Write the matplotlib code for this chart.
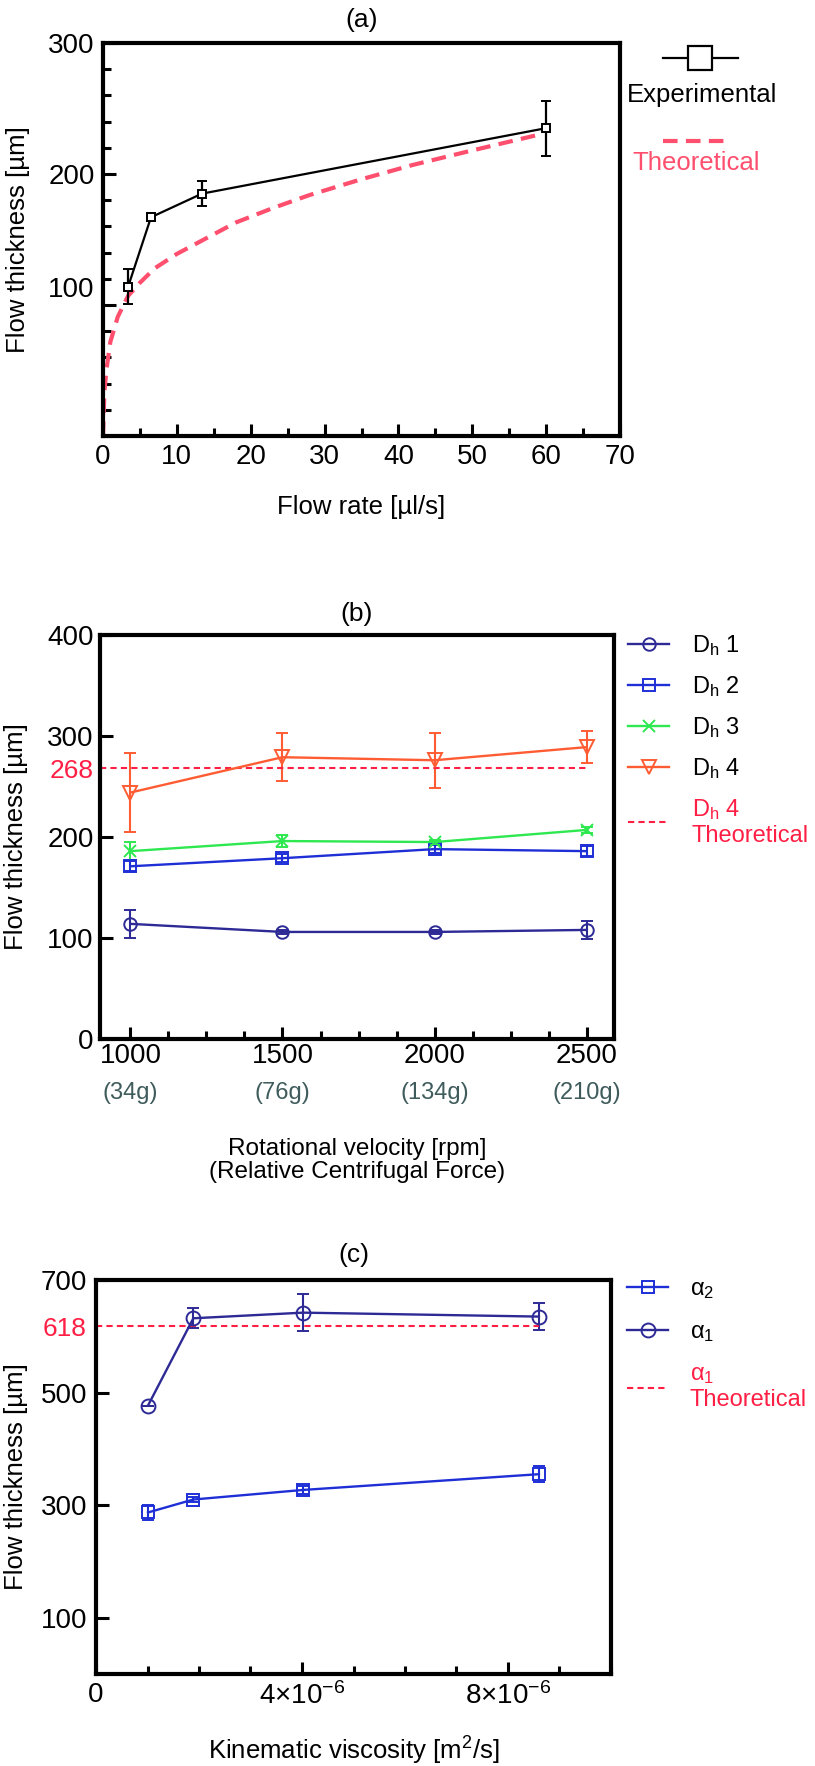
import matplotlib
matplotlib.use('Agg')
import matplotlib.pyplot as plt
from matplotlib.lines import Line2D
from matplotlib.ticker import MultipleLocator
from matplotlib.transforms import ScaledTranslation

plt.rcParams['font.family'] = ['Liberation Sans', 'DejaVu Sans']
plt.rcParams['mathtext.fontset'] = 'custom'
plt.rcParams['mathtext.rm'] = 'Liberation Sans'
plt.rcParams['mathtext.it'] = 'Liberation Sans:italic'
plt.rcParams['mathtext.default'] = 'regular'

# ---- panel (a) data ----
flow_rate = [3.4, 6.5, 13.4, 60]
exp_thick = [114, 167, 185, 235]
exp_err = [13.5, 3, 9.5, 21]
theo_rate = [0, 0.2, 0.5, 1, 2, 3.4, 5, 7, 10, 13, 18, 23, 28, 35, 42, 50, 59]
theo_thick = [0, 35, 52, 72, 91, 107, 117, 128, 139, 148, 163, 174, 184, 196, 207, 218, 230]

# ---- panel (b) data ----
rpm = [1000, 1500, 2000, 2500]
rcf_labels = ['(34g)', '(76g)', '(134g)', '(210g)']
dh1 = [114, 106, 106, 108]
dh1_err = [14, 2, 2, 9]
dh2 = [171, 179, 188, 186]
dh2_err = [5, 4, 4, 5]
dh3 = [186, 196, 195, 207]
dh3_err = [9, 6, 2, 3]
dh4 = [244, 279, 276, 289]
dh4_err = [39, 24, 27, 16]
dh4_theory = 268
dh4_theory_x = [900, 2500]

# ---- panel (c) data ----
visc = [1.01e-6, 1.89e-6, 4.02e-6, 8.6e-6]
alpha1 = [477, 632, 642, 635]
alpha1_err = [0, 18, 33, 24]
alpha2 = [287, 310, 327, 355]
alpha2_err = [14, 4, 7, 14]
alpha1_theory = 618
alpha1_theory_x = [0, 8.6e-6]

NAVY = '#2d2a96'
BLUE = '#1f2fd6'
GREEN = '#2ee84f'
ORANGE = '#ff5c33'
RED = '#ff1f44'
PINK = '#ff4f6e'
GRAY = '#3f5b5b'

W, H = 815, 1766
fig = plt.figure(figsize=(W / 100, H / 100), dpi=100)


def fx(px):
    return px / W


def fy(py):
    return 1 - py / H


def frame(ax):
    for s in ax.spines.values():
        s.set_linewidth(3)
    ax.tick_params(which='both', direction='in', width=2.2, labelsize=20)
    ax.tick_params(which='major', length=9)
    ax.tick_params(which='minor', length=6)


# ================= (a) =================
ax_a = fig.add_axes([fx(103), fy(436), 517 / W, 393 / H])
frame(ax_a)
ax_a.plot(theo_rate, theo_thick, color=PINK, lw=3, ls=(0, (3.5, 2)))
ax_a.errorbar(flow_rate, exp_thick, yerr=exp_err, color='black', lw=1.6,
              marker='s', ms=6, mfc='white', mec='black', mew=1.4,
              capsize=3.5, capthick=1.6, elinewidth=1.6)
ax_a.set_xlim(0, 70)
ax_a.set_ylim(0, 300)
ax_a.xaxis.set_major_locator(MultipleLocator(10))
ax_a.xaxis.set_minor_locator(MultipleLocator(5))
ax_a.set_yticks([100, 200, 300])
ax_a.yaxis.set_minor_locator(MultipleLocator(20))
ax_a.tick_params(axis='x', pad=6)
ax_a.tick_params(axis='y', pad=6)
# the "100" label sits a little above its tick in the original
lab100 = ax_a.yaxis.get_major_ticks()[0].label1
lab100.set_transform(lab100.get_transform() + ScaledTranslation(0, 13 / 72, fig.dpi_scale_trans))
ax_a.set_xlabel('Flow rate [\u00b5l/s]', fontsize=18.5, va='center')
ax_a.xaxis.set_label_coords(0.5, -0.181)
ax_a.set_ylabel('Flow thickness [\u00b5m]', fontsize=18.5, va='center')
ax_a.yaxis.set_label_coords(-0.164, 0.5)
ax_a.set_title('(a)', fontsize=19, y=1.0585, va='center', pad=0)

# legend (a): handle above text
fig.add_artist(Line2D([fx(663), fx(738)], [fy(58)] * 2, transform=fig.transFigure,
                      color='black', lw=1.6))
fig.add_artist(Line2D([fx(700)], [fy(58)], transform=fig.transFigure, color='black',
                      marker='s', ms=17, mfc='white', mec='black', mew=1.6))
fig.text(fx(627), fy(95), 'Experimental', fontsize=18.5, ha='left', va='center')
fig.add_artist(Line2D([fx(663), fx(731)], [fy(141)] * 2, transform=fig.transFigure,
                      color=PINK, lw=3, ls=(0, (3.5, 2))))
fig.text(fx(632), fy(163), 'Theoretical', fontsize=18.5, ha='left', va='center', color=PINK)

# ================= (b) =================
ax_b = fig.add_axes([fx(100), fy(1039), 514 / W, 404 / H])
frame(ax_b)
eb = dict(lw=1.7, capsize=4, capthick=1.5, elinewidth=1.5, mew=1.4, mfc='none')
h1 = ax_b.errorbar(rpm, dh1, yerr=dh1_err, color=NAVY, marker='o', ms=9, **eb)
h2 = ax_b.errorbar(rpm, dh2, yerr=dh2_err, color=BLUE, marker='s', ms=8.5, **eb)
h3 = ax_b.errorbar(rpm, dh3, yerr=dh3_err, color=GREEN, marker='x', ms=9, **eb)
h4 = ax_b.errorbar(rpm, dh4, yerr=dh4_err, color=ORANGE, marker='v', ms=10, **eb)
ht, = ax_b.plot(dh4_theory_x, [dh4_theory] * 2, color=RED, lw=1.5, ls=(0, (3, 2)))
ax_b.set_xlim(900, 2590)
ax_b.set_ylim(0, 400)
ax_b.set_xticks(rpm)
ax_b.xaxis.set_minor_locator(MultipleLocator(125))
ax_b.set_yticks([0, 100, 200, dh4_theory, 300, 400])
t268 = ax_b.yaxis.get_major_ticks()[3]
t268.label1.set_color(RED)
t268.label1.set_fontsize(19)
t268.tick1line.set_visible(False)
ax_b.tick_params(axis='x', pad=3)
ax_b.tick_params(axis='y', pad=4.5)
for xr, lab in zip(rpm, rcf_labels):
    ax_b.text(xr, -0.134, lab, transform=ax_b.get_xaxis_transform(), ha='center',
              va='center', fontsize=17, color=GRAY)
ax_b.set_xlabel('Rotational velocity [rpm]\n(Relative Centrifugal Force)', fontsize=17.5,
                va='center', linespacing=1.05)
ax_b.xaxis.set_label_coords(0.5, -0.30)
ax_b.set_ylabel('Flow thickness [\u00b5m]', fontsize=18.5, va='center')
ax_b.yaxis.set_label_coords(-0.163, 0.5)
ax_b.set_title('(b)', fontsize=19, y=1.052, va='center', pad=0)
leg_b = ax_b.legend([h1[0], h2[0], h3[0], h4[0], ht],
                    ['D$_h$ 1', 'D$_h$ 2', 'D$_h$ 3', 'D$_h$ 4', 'D$_h$ 4\nTheoretical'],
                    loc='upper left', bbox_to_anchor=(1.027, 1.005), frameon=False,
                    fontsize=17, borderaxespad=0, borderpad=0, handlelength=1.75,
                    handletextpad=0.95, labelspacing=0.68)
leg_b.get_texts()[4].set_color(RED)

# ================= (c) =================
ax_c = fig.add_axes([fx(96), fy(1674), 515 / W, 394 / H])
frame(ax_c)
g2 = ax_c.errorbar(visc, alpha2, yerr=alpha2_err, color=BLUE, marker='s', ms=9, **eb)
g1 = ax_c.errorbar(visc, alpha1, yerr=alpha1_err, color=NAVY, marker='o', ms=10, **eb)
gt, = ax_c.plot(alpha1_theory_x, [alpha1_theory] * 2, color=RED, lw=1.5, ls=(0, (3, 2)))
ax_c.set_xlim(0, 1e-5)
ax_c.set_ylim(0, 700)
ax_c.set_xticks([0, 4e-6, 8e-6])
ax_c.set_xticklabels(['0', '4\u00d710$^{-6}$', '8\u00d710$^{-6}$'])
ax_c.xaxis.set_minor_locator(MultipleLocator(1e-6))
ax_c.set_yticks([100, 300, 500, alpha1_theory, 700])
t618 = ax_c.yaxis.get_major_ticks()[3]
t618.label1.set_color(RED)
t618.label1.set_fontsize(19)
t618.tick1line.set_visible(False)
ax_c.tick_params(axis='x', pad=6)
ax_c.tick_params(axis='y', pad=6.5)
ax_c.set_xlabel('Kinematic viscosity [m$^2$/s]', fontsize=18.5, va='center')
ax_c.xaxis.set_label_coords(0.5, -0.195)
ax_c.set_ylabel('Flow thickness [\u00b5m]', fontsize=18.5, va='center')
ax_c.yaxis.set_label_coords(-0.155, 0.5)
ax_c.set_title('(c)', fontsize=19, y=1.063, va='center', pad=0)
leg_c = ax_c.legend([g2[0], g1[0], gt], [r'$\alpha_2$', r'$\alpha_1$', '$\\alpha_1$\nTheoretical'],
                    loc='upper left', bbox_to_anchor=(1.031, 1.005), frameon=False,
                    fontsize=17, borderaxespad=0, borderpad=0, handlelength=1.75,
                    handletextpad=0.9, labelspacing=0.85)
leg_c.get_texts()[2].set_color(RED)

fig.savefig('out.png', dpi=100)
